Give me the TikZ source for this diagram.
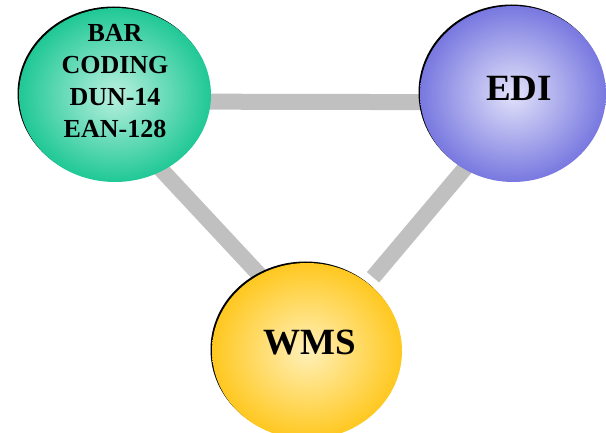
\documentclass[tikz,border=0pt]{standalone}
\usepackage{fontspec}
\setmainfont{Liberation Serif}
\usetikzlibrary{shapes.geometric,backgrounds}
\definecolor{barouter}{RGB}{32,200,150}
\definecolor{barinner}{RGB}{185,240,222}
\definecolor{edionter}{RGB}{120,120,224}
\definecolor{ediinner}{RGB}{226,226,250}
\definecolor{wmsouter}{RGB}{255,200,32}
\definecolor{wmsinner}{RGB}{255,240,185}
\definecolor{linkgray}{RGB}{192,192,192}
\begin{document}
\begin{tikzpicture}[x=1pt, y=-1pt,
		blob/.style={ellipse, inner sep=0pt, outer sep=0pt,
			preaction={fill=black, transform canvas={xshift=-1.5pt, yshift=1.5pt}}},
		link/.style={draw=linkgray, line width=16pt},
		tag/.style={font=\bfseries, text=black, inner sep=0pt}]
		\useasboundingbox (0, 0) rectangle (606, 433);
		
		\node[blob, minimum width=192pt, minimum height=174pt, shading=radial, inner color=barinner, outer color=barouter] (bar) at (115, 95) {};
		\node[blob, minimum width=186pt, minimum height=176pt, shading=radial, inner color=ediinner, outer color=edionter] (edi) at (513, 94) {};
		\node[blob, minimum width=190pt, minimum height=176pt, shading=radial, inner color=wmsinner, outer color=wmsouter] (wms) at (307, 351) {};
		
		\node[tag, align=center, font=\bfseries\fontsize{26}{32}\selectfont] (bartext) at (115, 81) {BAR\\CODING\\DUN-14\\EAN-128};
		\node[tag, font=\bfseries\fontsize{37}{40}\selectfont] (editext) at (519, 88) {EDI};
		\node[tag, font=\bfseries\fontsize{37}{40}\selectfont] (wmstext) at (310, 343) {WMS};
		
		\begin{scope}[on background layer]
			\draw[link, shorten <=-10pt, shorten >=-10pt] (bar.-4) -- (edi.185);
			\draw[link, shorten <=-10pt, shorten >=-6pt] (bar.-58) -- (wms.122);
			\draw[link, shorten <=-10pt, shorten >=8pt] (edi.237) -- (wms.48);
		\end{scope}
	\end{tikzpicture}
\end{document}
